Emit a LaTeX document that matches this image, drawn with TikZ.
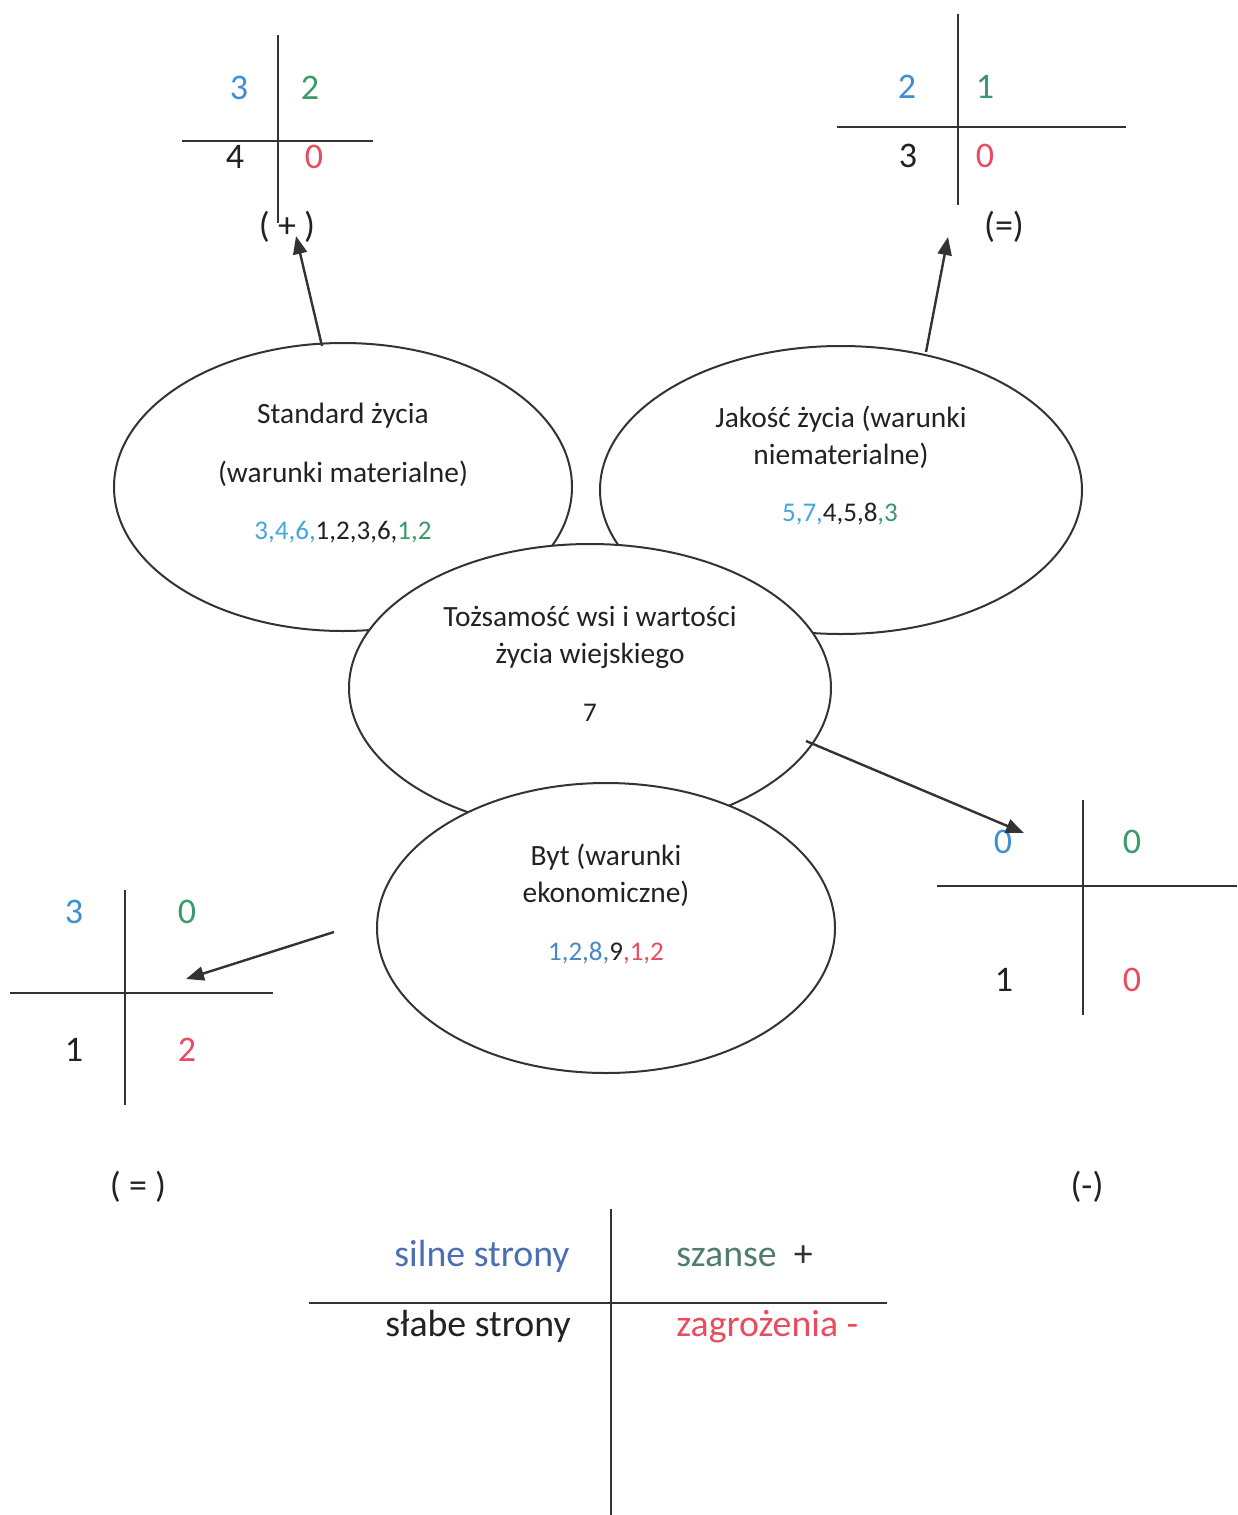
\documentclass[tikz,border=0pt]{standalone}
\usepackage{fontspec}
\setmainfont{Carlito}
\usetikzlibrary{shapes.geometric,arrows.meta}
\definecolor{txt}{HTML}{222222}
\definecolor{ln}{HTML}{333333}
\definecolor{nblue}{HTML}{3E90D2}
\definecolor{lblue}{HTML}{45A6DF}
\definecolor{sblue}{HTML}{4A86C8}
\definecolor{ngreen}{HTML}{3A9A68}
\definecolor{nred}{HTML}{E94C5E}
\definecolor{gblue}{HTML}{4B6FB5}
\definecolor{ggreen}{HTML}{4F7D6B}
\begin{document}
\begin{tikzpicture}[x=0.5pt,y=-0.5pt,
  ell/.style={ellipse,draw=ln,line width=1pt,fill=white,inner sep=0pt},
  etext/.style={font=\fontsize{14.7}{17}\selectfont,text=txt,anchor=base,inner sep=0pt},
  enum/.style={font=\fontsize{13.5}{16}\selectfont,text=txt,anchor=base,inner sep=0pt},
  digit/.style={font=\fontsize{18}{21}\selectfont,inner sep=0pt},
  plabel/.style={font=\fontsize{18}{21}\selectfont,text=txt,inner sep=0pt},
  legend/.style={font=\fontsize{18.9}{22}\selectfont,inner sep=0pt,anchor=base},
  axis/.style={draw=ln,line width=1.25pt},
  arr/.style={draw=ln,line width=1.2pt,-{Triangle[length=9pt,width=7pt]}}]
\path[fill=white] (0,0) rectangle (1237,1515);
\useasboundingbox (0,0) rectangle (1237,1515);

% ellipses
\node[ell,minimum width=229pt,minimum height=144pt] (e1) at (343,487) {};
\node[ell,minimum width=241pt,minimum height=144pt] (e2) at (841,490) {};
\node[ell,minimum width=241pt,minimum height=144pt] (e3) at (590,688) {};
\node[ell,minimum width=229pt,minimum height=145pt] (e4) at (606,928) {};

% ellipse texts
\node[etext] (t1a) at (343,423) {Standard życia};
\node[etext] (t1b) at (343,482) {(warunki materialne)};
\node[enum] (t1c) at (343,539) {\textcolor{lblue}{3,4,6,}1,2,3,6,\textcolor{ngreen}{1,2}};

\node[etext] (t2a) at (841,427) {Jakość życia (warunki};
\node[etext] (t2b) at (841,464) {niematerialne)};
\node[enum] (t2c) at (840,521) {\textcolor{lblue}{5,7,}4,5,8\textcolor{ngreen}{,3}};

\node[etext] (t3a) at (590,626) {Tożsamość wsi i wartości};
\node[etext] (t3b) at (590,663) {życia wiejskiego};
\node[enum] (t3c) at (590,721) {7};

\node[etext] (t4a) at (606,865) {Byt (warunki};
\node[etext] (t4b) at (606,902) {ekonomiczne)};
\node[enum] (t4c) at (606,960) {\textcolor{sblue}{1,2,8,}9\textcolor{nred}{,1,2}};

% top-left cross (+)
\draw[axis] (278,35) -- (278,223);
\draw[axis] (182,141) -- (373,141);
\node[digit,text=nblue] (q1a) at (239,88) {3};
\node[digit,text=ngreen] (q1b) at (310,88) {2};
\node[digit,text=txt] (q1c) at (235,157) {4};
\node[digit,text=nred] (q1d) at (314,157) {0};
\node[plabel] (p1) at (287,227) {( + )};

% top-right cross (=)
\draw[axis] (958,14) -- (958,205);
\draw[axis] (837,127) -- (1126,127);
\node[digit,text=nblue] (q2a) at (907,87) {2};
\node[digit,text=ngreen] (q2b) at (985,87) {1};
\node[digit,text=txt] (q2c) at (908,156) {3};
\node[digit,text=nred] (q2d) at (985,156) {0};
\node[plabel] (p2) at (1004,227) {(=)};

% right cross (-)
\draw[axis] (1083,800) -- (1083,1015);
\draw[axis] (937,886) -- (1237,886);
\node[digit,text=nblue] (q3a) at (1003,842) {0};
\node[digit,text=ngreen] (q3b) at (1132,842) {0};
\node[digit,text=txt] (q3c) at (1004,980) {1};
\node[digit,text=nred] (q3d) at (1132,980) {0};
\node[plabel] (p3) at (1087,1187) {(-)};

% left cross ( = )
\draw[axis] (125,890) -- (125,1105);
\draw[axis] (10,993) -- (273,993);
\node[digit,text=nblue] (q4a) at (74,912) {3};
\node[digit,text=ngreen] (q4b) at (187,912) {0};
\node[digit,text=txt] (q4c) at (74,1050) {1};
\node[digit,text=nred] (q4d) at (187,1050) {2};
\node[plabel] (p4) at (138,1187) {( = )};

% arrows
\coordinate (a1s) at (322,346);
\coordinate (a1e) at (296,236);
\coordinate (a2s) at (926,352);
\coordinate (a2e) at (948,237);
\coordinate (a3s) at (806,741);
\coordinate (a3e) at (1024,833);
\coordinate (a4s) at (334,932);
\coordinate (a4e) at (186,979);
\draw[arr] (a1s) -- (a1e);
\draw[arr] (a2s) -- (a2e);
\draw[arr] (a3s) -- (a3e);
\draw[arr] (a4s) -- (a4e);

% legend
\draw[axis] (611,1209) -- (611,1515);
\draw[axis] (309,1303) -- (887,1303);
\node[legend,text=gblue,anchor=base east] (l1) at (570,1266) {silne strony};
\node[legend,text=ggreen,anchor=base west] (l2) at (676,1266) {szanse\ \ \textcolor{txt!80!ggreen}{+}};
\node[legend,text=txt,anchor=base east] (l3) at (571,1336) {słabe strony};
\node[legend,text=nred,anchor=base west] (l4) at (676,1336) {zagrożenia -};
\end{tikzpicture}
\end{document}
